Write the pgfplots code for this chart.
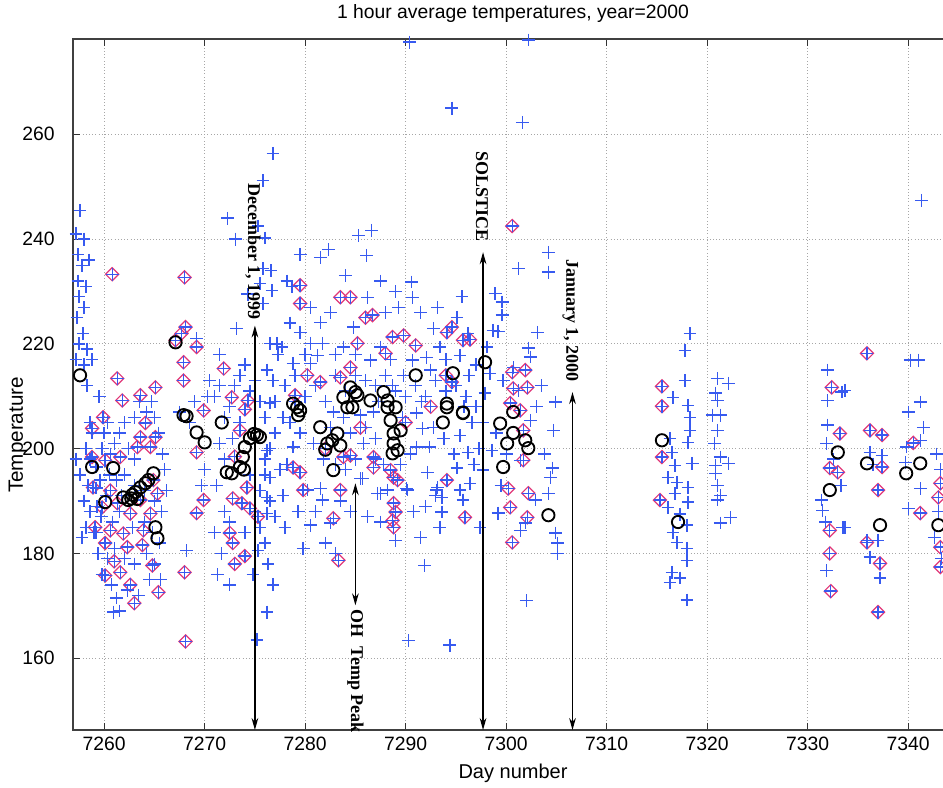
\documentclass[border=0pt]{standalone}
\usepackage{fontspec}
\setmainfont{Liberation Sans}
\newfontfamily\annfont{Liberation Serif}
\usepackage{pgfplots}
\usepackage{pgfplotstable}
\pgfplotsset{compat=1.18}
\usetikzlibrary{arrows.meta}
\definecolor{plusblue}{RGB}{55,90,240}
\definecolor{diamred}{RGB}{225,55,120}

\pgfplotstableread{
x y
7257.2 241
7257.6 245.5
7258.0 240
7257.4 237
7257.8 235
7258.2 231
7257.5 229
7258.0 227
7257.3 225
7257.9 222
7257.5 220
7258.3 219
7257.2 217
7258.0 216
7258.8 217
7258.3 212
7258.6 205
7258.8 203
7258.2 200
7258.6 198
7257.6 195
7258.4 193
7259.2 192.5
7258.0 190
7258.6 188
7258.2 185
7259.2 184
7257.8 183
7257.2 198
7257.4 232
7258.5 236
7259.5 210
7260.3 205
7260.0 203
7259.8 200
7260.6 199
7261.0 201
7261.5 203
7262.0 205
7262.4 200
7263.0 198
7263.0 206
7263.5 209
7264.2 207
7264.7 209
7265.0 206
7265.4 203
7265.8 199
7262.0 195
7261.2 194
7260.5 195
7259.6 194
7259.2 196.5
7260.2 191
7261.7 191
7263.0 193
7264.0 192
7265.0 190
7265.7 188
7259.7 187
7260.8 186
7261.5 188
7262.8 185
7264.0 186
7264.8 184
7265.5 182
7259.4 180
7260.3 179
7261.0 181
7262.0 179
7263.0 178
7264.2 180
7265.0 178
7259.8 176
7260.7 174
7262.3 173
7263.4 172
7261.5 169
7264.5 175
7265.6 175
7259.0 184
7261.2 171.5
7266.0 196
7266.2 192
7259.3 189
7260.9 168.8
7267.5 207
7268.5 205
7269.0 209
7270.3 210
7270.0 196
7269.7 193
7268.2 180.5
7270.5 213
7269.2 221
7271.0 210
7271.5 212
7272.0 206
7272.5 208
7273.0 212
7273.5 214
7274.0 216
7274.5 211
7275.0 213
7275.5 209
7276.0 206
7276.5 200
7277.0 203
7276.0 195
7276.5 190
7277.0 187
7275.5 185
7276.0 182
7276.3 178
7271.5 201
7272.0 198
7271.2 193
7272.0 188
7271.0 184
7271.7 180
7272.5 186
7271.3 176
7272.5 174
7274.8 176
7275.3 180.5
7274.0 184
7275.0 188
7275.5 192
7276.0 198
7277.0 209
7277.3 218
7276.8 213
7272.3 244
7273.1 240
7275.3 242.5
7275.8 251.2
7276.8 256.4
7274.3 229.5
7275.5 231.5
7276.0 240.2
7277.2 220
7273.2 223
7271.5 218
7275.2 163.5
7276.2 168.8
7276.8 174
7277.5 196
7277.8 191
7278.0 185
7274.5 195
7273.5 205
7272.8 202
7275.8 234.4
7276.6 234
7276.7 230.2
7275.8 227.7
7276.5 220.1
7276.2 215
7276.5 208.7
7276.2 199.7
7276.5 194.5
7276.2 190.7
7276.2 187.6
7281.5 236.5
7285.3 240.7
7286.6 241.7
7286.1 236.9
7280.5 227
7286.2 228.9
7290.6 231.8
7290.7 228.9
7295.1 225.1
7281.5 224.1
7279.5 222.2
7284.8 223.2
7280.5 220.1
7277.7 219.4
7281.7 220.1
7283.8 219.4
7278.8 216.3
7281.2 217.8
7286.5 216.9
7287.5 219.4
7290.7 216.9
7292.1 217.4
7293.4 219.4
7295.4 217.8
7280.5 216.3
7278.8 200.3
7281.5 192.4
7281.7 190.2
7280.5 185.4
7282.5 204.1
7285.5 206.4
7284.5 203
7285.8 201
7285.5 194.3
7287.2 191.5
7288.2 192.1
7290.2 192.1
7289.0 182.5
7291.1 206.8
7291.7 203.9
7291.1 200.3
7292.4 200.3
7292.2 195.5
7293.2 192.6
7293.6 190.7
7293.0 191
7293.6 187.9
7293.4 185
7295.4 192.1
7295.7 190.2
7296.4 193.4
7296.2 199.3
7295.1 196.3
7295.4 202.5
7296.6 205
7280.2 192.1
7282.5 185.8
7285.7 194.3
7287.5 191.5
7290.1 192.4
7291.9 177.7
7290.3 163.4
7294.4 162.5
7293.1 192.1
7297.4 185
7294.6 265
7290.4 277.6
7278.0 212
7279.0 214
7280.0 210
7281.0 212
7282.0 209
7283.0 214
7284.0 211
7285.0 214
7286.0 213
7287.0 212
7288.0 214
7289.0 211
7290.0 210
7291.0 212
7292.0 210
7293.0 213
7294.0 211
7295.0 212
7296.0 210
7278.5 205
7279.5 203
7280.8 201
7281.8 198
7283.0 197
7284.0 196
7285.0 198
7286.0 204
7287.0 202
7287.8 197
7289.5 197
7290.5 199
7292.8 204
7293.8 202
7294.8 199
7296.8 197
7278.2 197
7279.3 188
7281.0 188
7283.5 190
7284.5 188
7286.2 187
7287.5 186
7290.8 188
7292.0 189
7291.5 183
7279.8 181
7282.0 182
7283.0 180
7278.5 224
7282.5 226
7288.0 226
7289.0 230
7291.5 226
7292.8 223
7284.0 233
7287.5 232
7279.5 237
7278.2 232
7283.0 218
7288.5 217
7289.8 214
7292.5 215
7294.0 217
7296.3 214
7297.0 208
7297.3 200
7280.0 218
7286.8 207
7285.0 218
7289.3 227
7293.2 227
7295.6 229
7277.8 206
7279.0 209
7282.8 207
7283.8 206
7287.3 209
7289.7 206
7291.6 209
7296.2 222
7295.8 208
7297.0 216
7278.7 231
7282.3 238
7287.0 198
7288.7 212
7304.2 237.5
7301.2 234.4
7304.2 233.7
7298.9 229.6
7299.6 228
7299.6 225.5
7298.7 222.6
7299.2 222.4
7303.1 222.2
7298.1 219.4
7302.2 219.2
7302.4 217.5
7298.4 214.4
7300.7 215.5
7299.7 213
7301.2 211.1
7304.9 208.9
7297.9 210.6
7297.7 205
7302.4 205.4
7304.7 203.5
7298.6 199.7
7301.4 197.8
7297.7 195.9
7304.6 196.3
7304.4 194.5
7304.2 191.5
7299.2 187.7
7302.9 190.2
7301.9 185.8
7301.4 184.4
7304.9 183.9
7305.1 182
7305.1 180
7302.0 171
7301.6 262.3
7302.2 278
7299.0 203
7300.0 199
7303.0 208
7303.5 212
7299.5 193
7303.8 199
7318.3 222
7317.8 218.8
7317.8 213
7316.6 209.8
7318.1 208.3
7318.3 206
7318.3 203.5
7318.1 201.2
7316.5 199.3
7316.8 196.8
7318.5 197.2
7316.1 194.5
7317.0 193.6
7318.1 192.6
7316.8 191.5
7316.1 188.8
7318.1 189.8
7318.0 185.4
7317.0 182.1
7318.0 181
7318.0 178.7
7316.5 176.4
7317.3 175.3
7316.3 174.5
7318.0 171.1
7316.3 202
7317.3 187.5
7316.6 184
7321.0 213.4
7322.1 212.5
7320.8 210.6
7321.0 209.2
7320.5 206.4
7321.3 206.4
7321.0 203.5
7321.3 198.4
7320.8 196.8
7322.1 197.2
7320.8 195.3
7321.0 193
7321.3 191.1
7321.0 190.2
7322.3 186.9
7321.3 185.8
7320.7 201
7332.0 215
7332.0 209.2
7333.4 210.8
7332.0 204.5
7331.9 201
7331.4 190.2
7331.5 188.2
7333.5 185
7331.9 176.8
7333.3 193
7336.2 199.3
7337.4 198.7
7335.9 182.5
7337.0 182.5
7336.2 179.3
7337.2 175.3
7333.7 211.1
7333.7 185
7332.6 198
7331.8 186
7336.5 197
7341.3 247.4
7340.2 216.9
7341.0 216.9
7341.2 208.9
7340.0 207
7341.5 204.1
7339.8 200.3
7341.2 201.6
7339.7 197.4
7341.2 192.4
7340.0 188.6
7342.8 199
7343.2 196
7343.0 188
7342.6 183
7343.3 179
}\plustab

\pgfplotstableread{
x y
7260.8 233.3
7261.3 213.4
7261.8 209.2
7263.6 210.2
7265.1 211.7
7259.9 206
7258.8 203.9
7264.1 204.9
7263.6 202.2
7265.1 202.2
7263.3 200.3
7264.6 200.3
7258.8 198.4
7260.1 197.8
7261.6 198.4
7264.9 194
7258.9 192.6
7260.6 192
7261.3 189.6
7263.6 190.2
7265.3 191.4
7259.8 188.8
7262.6 187.6
7264.6 187.6
7259.1 185
7260.6 184.4
7261.9 183.8
7263.9 184.4
7260.1 182
7262.3 181.2
7263.8 181.6
7260.1 175.8
7261.6 176.4
7262.6 174
7264.8 177.7
7265.4 172.6
7265.1 145.7
7261.0 178.5
7263.0 170.5
7268.0 232.7
7268.1 223.2
7267.7 222
7267.1 220.7
7269.2 219.4
7267.9 216.5
7267.9 213
7269.9 207.3
7269.2 199.3
7269.2 187.7
7269.9 190.2
7268.0 176.4
7268.1 163.2
7271.9 215.3
7272.7 209.8
7274.3 209.2
7274.0 207.5
7273.5 203.5
7273.0 198.5
7274.2 192.6
7272.8 190.5
7273.7 189.6
7274.5 188.6
7272.5 183.9
7272.8 182
7273.0 178
7274.0 179.5
7275.3 187
7279.5 231.2
7279.5 227.7
7283.5 228.9
7284.5 228.9
7286.7 225.5
7280.2 214
7281.5 212.7
7283.5 213.6
7284.5 215.5
7285.2 220.1
7288.0 218.2
7288.7 221.3
7289.8 221.6
7291.0 219.7
7294.1 222.2
7294.6 223.2
7295.7 220.7
7294.0 214
7294.6 212.7
7279.0 210.2
7278.8 196.4
7279.5 195.5
7279.8 192.1
7282.8 186.7
7283.8 198.4
7284.5 198.7
7286.8 198.4
7286.8 196.4
7288.5 195.9
7288.8 194.5
7289.2 194
7288.8 189.6
7289.0 187.9
7288.7 186.3
7288.8 185
7294.1 194
7295.9 186.9
7283.3 178.7
7283.5 192.1
7282.0 200
7285.5 204
7290.0 205
7292.5 208
7286.0 225
7300.6 242.5
7300.6 214.6
7301.9 215
7300.7 211.5
7302.1 211.7
7300.4 208.7
7301.4 207.3
7301.7 203.5
7301.7 197.8
7300.2 192.4
7302.2 191.5
7300.4 188.8
7302.1 186.9
7300.6 182.1
7296.4 220.8
7315.5 211.9
7315.5 208.1
7315.5 198.4
7315.3 190.2
7332.4 211.7
7333.2 202.9
7332.2 196.3
7333.0 195.5
7332.2 184.4
7332.2 180
7332.3 172.8
7335.9 218.2
7336.2 203.5
7337.4 202.6
7337.4 196.5
7337.0 192.1
7335.9 182.1
7337.2 178.1
7337.0 168.8
7340.5 201.1
7341.2 187.7
7343.0 190.7
7343.2 193.4
7343.2 181.2
7343.2 177.4
}\diamtab

\pgfplotstableread{
x y
7257.6 214
7258.8 196.5
7260.9 196.3
7260.1 189.8
7261.9 190.7
7262.4 190.2
7262.7 190.5
7263.1 191.7
7263.6 192.6
7264.1 193.4
7264.4 194
7264.9 195.3
7265.1 185
7265.3 182.9
7263.3 190.4
7262.8 191.2
7267.1 220.3
7267.9 206.4
7268.2 206.2
7269.2 203.1
7270.0 201.2
7272.7 195.3
7273.5 196.5
7273.8 198.4
7274.0 200.3
7274.5 202
7275.2 202.6
7275.5 202.2
7274.9 202.8
7271.7 205
7273.9 196
7272.2 195.5
7284.5 211.7
7285.0 210.8
7285.2 210.2
7283.8 209.8
7286.5 209.2
7288.2 209.2
7289.0 207.9
7291.0 214
7294.1 208.6
7294.7 214.4
7295.7 206.9
7278.8 208.6
7279.5 207.3
7287.8 210.8
7279.2 207.9
7279.3 206.4
7281.5 204.1
7282.2 201
7282.0 199.8
7282.7 201.6
7283.2 202.9
7283.5 200.6
7282.8 195.9
7288.2 207.9
7288.5 205.4
7288.8 202.9
7288.8 201
7289.2 199.7
7288.7 199.1
7289.5 203.5
7294.1 207.9
7293.7 205
7295.7 206.8
7284.2 207.9
7284.7 207.9
7297.9 216.5
7300.7 207
7299.4 204.8
7300.1 201
7301.9 201.6
7302.2 200.1
7299.7 196.5
7304.2 187.3
7300.7 203
7315.5 201.6
7317.1 186
7333.0 199.3
7332.2 192.1
7335.9 197.2
7337.2 185.4
7339.8 195.3
7341.2 197.2
7343.0 185.4
}\circtab

\begin{document}
\begin{tikzpicture}
\begin{axis}[
  name=ax,
  scale only axis,
  width=660pt, height=518.25pt,
  xmin=7256.9, xmax=7344.46,
  ymin=146.3, ymax=278.2,
  xtick={7260,7270,...,7340},
  ytick={160,180,...,260},
  tick align=inside,
  xtick pos=both, ytick pos=both,
  major tick length=5pt,
  tick style={black!80, line width=0.6pt},
  axis line style={black!75, line width=0.8pt},
  grid=major,
  grid style={dotted, black!35, line width=0.7pt},
  /pgf/number format/assume math mode=true,
  /pgf/number format/1000 sep={},
  ticklabel style={font=\fontsize{14.5}{17}\selectfont},
  xticklabel style={anchor=center, yshift=-10.5pt},
  yticklabel style={anchor=east, inner sep=0pt, xshift=-13.5pt},
  title={1 hour average temperatures, year=2000},
  title style={font=\fontsize{14.5}{17}\selectfont, at={(axis description cs:0.5,1.0246)}, anchor=center},
  xlabel={Day number},
  ylabel={Temperature},
  xlabel style={font=\fontsize{15}{18}\selectfont, at={(axis description cs:0.5,-0.062)}, anchor=center},
  ylabel style={font=\fontsize{15.5}{18}\selectfont, at={(axis description cs:-0.0625,0.427)}, anchor=center},
  clip mode=individual,
]
\addplot[only marks, mark=square, mark size=3.5pt, draw=diamred, mark options={rotate=45, line width=0.9pt, draw=diamred, fill=none}] table {\diamtab};
\addplot[only marks, mark=+, mark size=4.8pt, color=plusblue, mark options={line width=1pt, draw=plusblue}] table {\diamtab};
\addplot[only marks, mark=+, mark size=4.8pt, color=plusblue, mark options={line width=1pt, draw=plusblue}] table {\plustab};
\addplot[only marks, mark=o, mark size=4.6pt, color=black, mark options={line width=1.4pt, draw=black, fill=none}] table {\circtab};

\draw[{Stealth[length=9pt,width=5pt]}-{Stealth[length=9pt,width=5pt]}, line width=0.9pt] (axis cs:7275,146.3) -- (axis cs:7275,223.5);
\draw[{Stealth[length=9pt,width=5pt]}-{Stealth[length=9pt,width=5pt]}, line width=0.9pt] (axis cs:7285,170.1) -- (axis cs:7285,193.4);
\draw[{Stealth[length=9pt,width=5pt]}-{Stealth[length=9pt,width=5pt]}, line width=0.9pt] (axis cs:7297.7,146.3) -- (axis cs:7297.7,237.5);
\draw[{Stealth[length=9pt,width=5pt]}-{Stealth[length=9pt,width=5pt]}, line width=0.9pt] (axis cs:7306.6,146.3) -- (axis cs:7306.6,210.8);

\node[rotate=-90, font=\annfont\bfseries\fontsize{13.5}{16}\selectfont, inner sep=0pt] at (axis cs:7274.8,237.6) {December 1, 1999};
\node[rotate=-90, font=\annfont\bfseries\fontsize{13.5}{16}\selectfont, inner sep=0pt] at (axis cs:7285,157.5) {OH\ \ Temp Peak};
\node[rotate=-90, font=\annfont\bfseries\fontsize{13.5}{16}\selectfont, inner sep=0pt] at (axis cs:7297.6,248.2) {SOLSTICE};
\node[rotate=-90, font=\annfont\bfseries\fontsize{13.5}{16}\selectfont, inner sep=0pt] at (axis cs:7306.4,224.5) {January 1, 2000};
\end{axis}
\pgfresetboundingbox
\path[use as bounding box] ([xshift=-54.75pt,yshift=-43.5pt]ax.south west) rectangle ([xshift=-7.5pt,yshift=29.25pt]ax.north east);
\end{tikzpicture}
\end{document}
